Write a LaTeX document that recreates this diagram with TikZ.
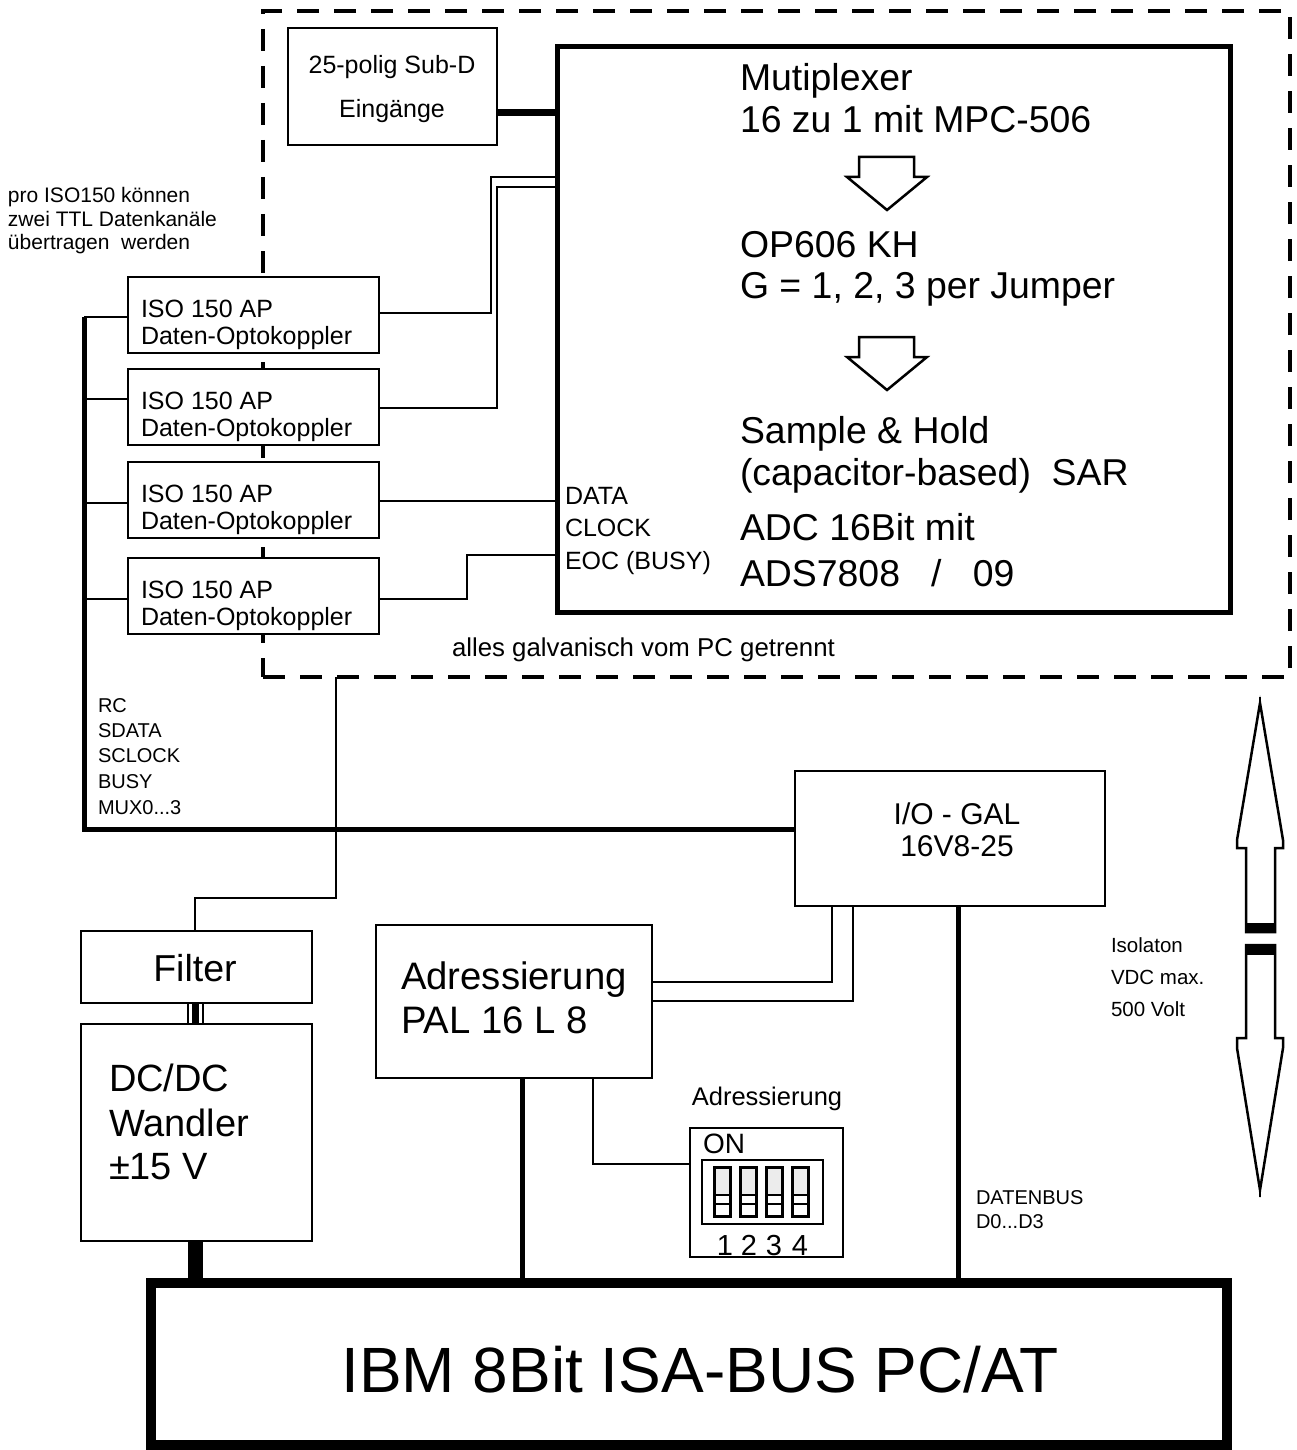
\documentclass[tikz,border=0pt]{standalone}
\usepackage{fontspec}
\setmainfont{Liberation Sans}
\newcommand\setfs[1]{\fontsize{#1}{#1}\selectfont}
\begin{document}
\begin{tikzpicture}[x=1pt,y=-1pt,
  box/.style={draw, line width=2pt, fill=white, rectangle, inner sep=0pt, outer sep=0pt, anchor=north west},
  thinw/.style={line width=1.4pt},
  bus/.style={line width=5pt},
  txt/.style={inner sep=0pt, outer sep=0pt, anchor=base west},
  ctxt/.style={inner sep=0pt, outer sep=0pt, anchor=base},
  hollow/.style={line width=2.5pt, line join=miter}
]
\useasboundingbox (0,0) rectangle (1297,1450);
\fill[white] (0,0) rectangle (1297,1450);

% isolated area
\node[draw, dash pattern=on 22pt off 15pt, line width=3.5pt, minimum width=1027pt, minimum height=666pt, anchor=north west, inner sep=0pt, outer sep=0pt] (iso) at (263,11) {};

% notes
\node[txt] (n1) at (8,203) {\setfs{21}pro ISO150 können};
\node[txt] (n2) at (8,226) {\setfs{21}zwei TTL Datenkanäle};
\node[txt] (n3) at (8,249) {\setfs{21}übertragen\ \ werden};

% Sub-D
\node[box, minimum width=209pt, minimum height=117pt] (subd) at (288,28) {};
\node[ctxt] (subdt1) at (392,74) {\setfs{25}25-polig Sub-D};
\node[ctxt] (subdt2) at (392,118) {\setfs{25}Eingänge};

% MUX block
\node[box, line width=5pt, minimum width=673pt, minimum height=565pt] (mux) at (557,47) {};
\draw[line width=7pt] (subd.east |- 0,113) -- (mux.west |- 0,113);

\node[txt] (m1) at (740,91) {\setfs{37.4}Mutiplexer};
\node[txt] (m2) at (740,133) {\setfs{37.4}16 zu 1 mit MPC-506};
\node[txt] (m3) at (740,257) {\setfs{37.4}OP606 KH};
\node[txt] (m4) at (740,298) {\setfs{37.4}G = 1, 2, 3 per Jumper};
\node[txt] (m5) at (740,443) {\setfs{37.4}Sample \& Hold};
\node[txt] (m6) at (740,485) {\setfs{37.4}(capacitor-based)\ \ SAR};
\node[txt] (m7) at (740,540) {\setfs{37.4}ADC 16Bit mit};
\node[txt] (m8) at (740,586) {\setfs{37.4}ADS7808\ \ \ /\ \ \ 09};

\draw[hollow] (859,157) -- (914,157) -- (914,177) -- (927,177) -- (887,210) -- (847,177) -- (859,177) -- cycle;
\draw[hollow] (859,337) -- (914,337) -- (914,357) -- (927,357) -- (887,390) -- (847,357) -- (859,357) -- cycle;

\node[txt] (l1) at (565,504) {\setfs{25}DATA};
\node[txt] (l2) at (565,536) {\setfs{25}CLOCK};
\node[txt] (l3) at (565,569) {\setfs{25}EOC (BUSY)};

% optocouplers
\node[box, minimum width=251pt, minimum height=76pt] (o1) at (128,277) {};
\node[box, minimum width=251pt, minimum height=76pt] (o2) at (128,369) {};
\node[box, minimum width=251pt, minimum height=76pt] (o3) at (128,462) {};
\node[box, minimum width=251pt, minimum height=76pt] (o4) at (128,558) {};
\foreach \t/\n in {277/1,369/2,462/3,558/4}{
  \node[txt] (oa\n) at (141,\t+40) {\setfs{25}ISO 150 AP};
  \node[txt] (ob\n) at (141,\t+67) {\setfs{25}Daten-Optokoppler};
}

\draw[thinw] (o1.east |- 0,313) -| (491,177) -- (mux.west |- 0,177);
\draw[thinw] (o2.east |- 0,408) -| (497,187) -- (mux.west |- 0,187);
\draw[thinw] (o3.east |- 0,501) -- (mux.west |- 0,501);
\draw[thinw] (o4.east |- 0,599) -| (467,555) -- (mux.west |- 0,555);

\node[txt] (galv) at (452,656) {\setfs{25.8}alles galvanisch vom PC getrennt};

% GAL
\node[box, minimum width=310pt, minimum height=135pt] (gal) at (795,771) {};
\node[ctxt] (g1) at (957,824) {\setfs{30}I/O - GAL};
\node[ctxt] (g2) at (957,856) {\setfs{30}16V8-25};

% left bus
\coordinate (bustop) at (84,317);
\draw[bus, line join=miter] (bustop) -- (84,829) -- (gal.west |- 0,829);
\draw[thinw] (bustop) -- (o1.west |- bustop);
\draw[thinw] (bustop |- 0,399) -- (o2.west |- 0,399);
\draw[thinw] (bustop |- 0,503) -- (o3.west |- 0,503);
\draw[thinw] (bustop |- 0,599) -- (o4.west |- 0,599);

\node[txt] (r1) at (98,712) {\setfs{20}RC};
\node[txt] (r2) at (98,737) {\setfs{20}SDATA};
\node[txt] (r3) at (98,762) {\setfs{20}SCLOCK};
\node[txt] (r4) at (98,788) {\setfs{20}BUSY};
\node[txt] (r5) at (98,814) {\setfs{20}MUX0...3};

% Filter / DC-DC
\node[box, minimum width=231pt, minimum height=72pt] (filter) at (81,931) {};
\node[ctxt] (ft) at (195,981) {\setfs{37.5}Filter};
\node[box, minimum width=231pt, minimum height=217pt] (dcdc) at (81,1024) {};
\node[txt] (d1) at (109,1091) {\setfs{38}DC/DC};
\node[txt] (d2) at (109,1136) {\setfs{38}Wandler};
\node[txt] (d3) at (109,1179) {\setfs{38}±15 V};

\draw[thinw] (iso.south -| 336,0) -- (336,898) -| (filter.north -| 195,0);
\draw[line width=1.2pt] (filter.south -| 188,0) -- (dcdc.north -| 188,0);
\draw[line width=1.2pt] (filter.south -| 203,0) -- (dcdc.north -| 203,0);
\draw[line width=7pt] (filter.south -| 195.5,0) -- (dcdc.north -| 195.5,0);

% IBM
\node[box, line width=10pt, minimum width=1076pt, minimum height=162pt] (ibm) at (151,1283) {};
\node[ctxt] (ibmt) at (700,1392) {\setfs{64}IBM 8Bit ISA-BUS PC/AT};
\draw[line width=15pt] (dcdc.south -| 195,0) -- (ibm.north -| 195,0);

% PAL
\node[box, minimum width=276pt, minimum height=153pt] (pal) at (376,925) {};
\node[txt] (p1) at (401,989) {\setfs{38.3}Adressierung};
\node[txt] (p2) at (401,1033) {\setfs{38.3}PAL 16 L 8};

\draw[thinw] (gal.south -| 832,0) -- (832,982) -- (pal.east |- 0,982);
\draw[thinw] (gal.south -| 853,0) -- (853,1001) -- (pal.east |- 0,1001);
\draw[bus] (gal.south -| 958,0) -- (ibm.north -| 958,0);
\draw[bus] (pal.south -| 522,0) -- (ibm.north -| 522,0);

% DIP switch
\node[box, minimum width=153pt, minimum height=129pt] (dip) at (690,1128) {};
\node[draw, line width=2pt, anchor=north west, minimum width=121pt, minimum height=64pt, inner sep=0pt, outer sep=0pt] (dipin) at (702,1160) {};
\foreach \x in {714,740,766,792}{
  \fill[gray!15] (\x,1167) rectangle (\x+16,1195);
  \draw[line width=3pt] (\x,1167) rectangle (\x+16,1216);
  \draw[line width=2pt] (\x,1195) -- (\x+16,1195);
  \draw[line width=2pt] (\x,1204) -- (\x+16,1204);
}
\node[ctxt] (dipl) at (767,1105) {\setfs{25.5}Adressierung};
\node[txt] (on) at (703,1153) {\setfs{28}ON};
\node[ctxt] (s1) at (725,1255) {\setfs{29}1};
\node[ctxt] (s2) at (749,1255) {\setfs{29}2};
\node[ctxt] (s3) at (774,1255) {\setfs{29}3};
\node[ctxt] (s4) at (800,1255) {\setfs{29}4};
\draw[thinw] (pal.south -| 593,0) |- (dip.west |- 0,1164);

% data bus label
\node[txt] (db1) at (976,1204) {\setfs{20}DATENBUS};
\node[txt] (db2) at (976,1228) {\setfs{20}D0...D3};

% isolation
\node[txt] (i1) at (1111,952) {\setfs{20.5}Isolaton};
\node[txt] (i2) at (1111,984) {\setfs{20.5}VDC max.};
\node[txt] (i3) at (1111,1016) {\setfs{20.5}500 Volt};

\draw[line width=2.5pt, line join=miter] (1246,932) -- (1246,848) -- (1237,848) -- (1237,840) -- (1260,703) -- (1283,840) -- (1283,848) -- (1275,848) -- (1275,932) -- cycle;
\fill (1246,923) rectangle (1275,933);
\draw[line width=1.2pt] (1260,703) -- (1260,697);
\draw[line width=2.5pt, line join=miter] (1246,945) -- (1246,1038) -- (1237,1038) -- (1237,1048) -- (1260,1190) -- (1283,1048) -- (1283,1038) -- (1275,1038) -- (1275,945) -- cycle;
\fill (1246,944) rectangle (1275,955);
\draw[line width=1.2pt] (1260,1190) -- (1260,1197);
\end{tikzpicture}
\end{document}
